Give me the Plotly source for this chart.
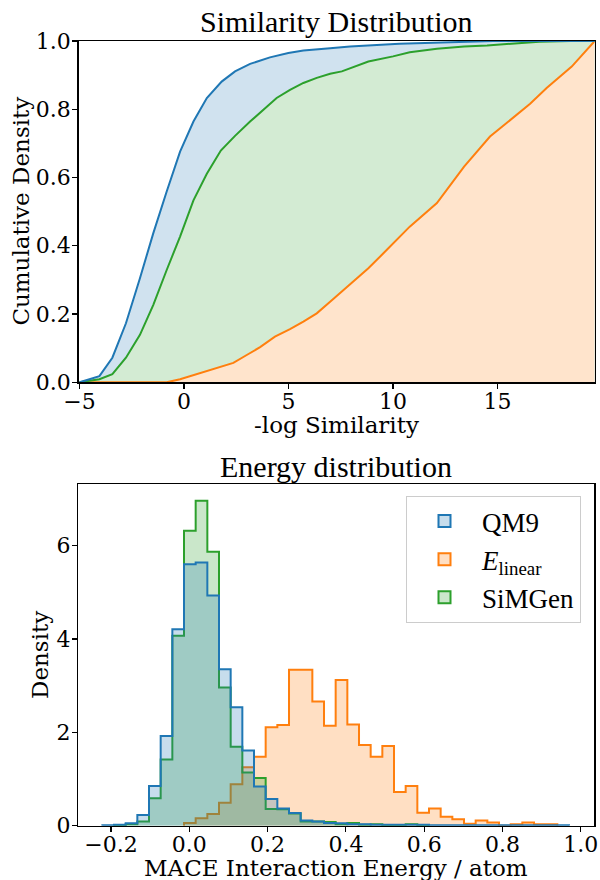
import plotly.graph_objects as go

W, H = 600, 880

C_BLUE = "#1f77b4"
C_ORANGE = "#ff7f0e"
C_GREEN = "#2ca02c"

# ---------------- Top panel: cumulative similarity distributions ----------------
qm9_sim_x = [-5.0, -4.05, -3.43, -2.78, -2.11, -1.47, -0.83, -0.19, 0.45, 1.09, 1.80, 2.44,
             3.16, 4.11, 4.99, 5.71, 6.99, 7.94, 10.3, 12.7, 14.8, 19.65]
qm9_sim_y = [0.0, 0.018, 0.072, 0.173, 0.305, 0.437, 0.559, 0.676, 0.764, 0.833, 0.881, 0.911,
             0.933, 0.952, 0.965, 0.972, 0.979, 0.984, 0.992, 0.996, 1.0, 1.0]

simgen_sim_x = [-5.0, -4.05, -3.43, -2.78, -2.11, -1.47, -0.83, -0.19, 0.45, 1.09, 1.76, 2.44,
                3.16, 3.80, 4.43, 5.07, 5.71, 6.35, 6.99, 7.55, 8.82, 10.0, 10.8, 12.1, 13.4,
                14.5, 15.8, 17.0, 18.5, 19.65]
simgen_sim_y = [0.0, 0.009, 0.024, 0.072, 0.139, 0.227, 0.329, 0.427, 0.533, 0.611, 0.679, 0.722,
                0.764, 0.798, 0.833, 0.857, 0.877, 0.892, 0.904, 0.911, 0.940, 0.955, 0.967, 0.977,
                0.984, 0.987, 0.993, 0.998, 1.0, 1.0]

elinear_sim_x = [-5.0, -0.83, -0.19, 0.45, 1.09, 1.72, 2.36, 3.0, 3.64, 4.35, 5.07, 5.71, 6.35,
                 6.99, 7.55, 8.82, 9.54, 10.8, 12.1, 13.4, 14.64, 16.56, 17.35, 18.55, 19.65]
elinear_sim_y = [0.0, 0.0, 0.009, 0.021, 0.031, 0.043, 0.057, 0.080, 0.103, 0.134, 0.156, 0.178,
                 0.202, 0.236, 0.266, 0.334, 0.378, 0.456, 0.525, 0.632, 0.720, 0.816, 0.862,
                 0.925, 1.0]

sim_xticks = [-5, 0, 5, 10, 15]
sim_xtick_labels = ["\u22125", "0", "5", "10", "15"]
sim_yticks = [0.0, 0.2, 0.4, 0.6, 0.8, 1.0]
sim_ytick_labels = ["0.0", "0.2", "0.4", "0.6", "0.8", "1.0"]

# ---------------- Bottom panel: energy histograms (density per bin) ----------------
HIST_START = -0.2221
HIST_WIDTH = 0.0298
N_EDGES = 42
hist_edges = [round(HIST_START + i * HIST_WIDTH, 4) for i in range(N_EDGES)]

qm9_first_bin = 0
qm9_density = [0.01, 0.02, 0.05, 0.23, 0.85, 1.92, 4.21, 5.60, 5.64, 4.93, 3.35, 2.54, 1.61,
               0.84, 0.57, 0.37, 0.27, 0.11, 0.09, 0.06, 0.05, 0.03, 0.03, 0.02, 0.02, 0.02,
               0.02, 0.02, 0.01, 0.01, 0.01, 0.01, 0.01, 0.01, 0.01, 0.01, 0.01, 0.01, 0.01, 0.01]

simgen_first_bin = 1
simgen_density = [0.01, 0.03, 0.09, 0.59, 1.42, 4.07, 6.32, 6.96, 5.87, 2.96, 1.69, 1.14, 1.02,
                  0.36, 0.35, 0.26, 0.09, 0.09, 0.08, 0.03, 0.06, 0.02, 0.03, 0.01, 0.01, 0.03,
                  0.01]

elinear_first_bin = 7
elinear_density = [0.06, 0.16, 0.25, 0.49, 0.89, 1.25, 1.48, 2.11, 2.16, 3.34, 3.34, 2.66, 2.14,
                   3.12, 2.17, 1.73, 1.48, 1.71, 0.72, 0.85, 0.28, 0.37, 0.19, 0.14, 0.04, 0.11,
                   0.07, 0.0, 0.03, 0.07, 0.03, 0.03]

en_xticks = [-0.2, 0.0, 0.2, 0.4, 0.6, 0.8, 1.0]
en_xtick_labels = ["\u22120.2", "0.0", "0.2", "0.4", "0.6", "0.8", "1.0"]
en_yticks = [0, 2, 4, 6]
en_ytick_labels = ["0", "2", "4", "6"]

series_names = ["QM9", "<i>E</i><sub>linear</sub>", "SiMGen"]


def rgba(hex_color, a):
    h = hex_color.lstrip("#")
    r, g, b = int(h[0:2], 16), int(h[2:4], 16), int(h[4:6], 16)
    return f"rgba({r},{g},{b},{a})"


def opaque_tint(hex_color, a):
    h = hex_color.lstrip("#")
    r, g, b = int(h[0:2], 16), int(h[2:4], 16), int(h[4:6], 16)
    mix = lambda c: round(255 * (1 - a) + c * a)
    return f"rgb({mix(r)},{mix(g)},{mix(b)})"


def step_xy(first, heights):
    n = len(heights)
    xs = [hist_edges[first]] + [hist_edges[first + i] for i in range(n)] + [hist_edges[first + n]]
    ys = [0.0] + list(heights) + [0.0]
    return xs, ys


fig = go.Figure()

# top panel fills (opaque tints, layered)
for xs, ys, col in [(qm9_sim_x, qm9_sim_y, C_BLUE),
                    (simgen_sim_x, simgen_sim_y, C_GREEN),
                    (elinear_sim_x, elinear_sim_y, C_ORANGE)]:
    fig.add_trace(go.Scatter(x=xs, y=ys, mode="lines", line=dict(width=0, color=col),
                             fill="tozeroy", fillcolor=opaque_tint(col, 0.21),
                             showlegend=False, hoverinfo="skip", xaxis="x", yaxis="y"))
for xs, ys, col in [(elinear_sim_x, elinear_sim_y, C_ORANGE),
                    (simgen_sim_x, simgen_sim_y, C_GREEN),
                    (qm9_sim_x, qm9_sim_y, C_BLUE)]:
    fig.add_trace(go.Scatter(x=xs, y=ys, mode="lines", line=dict(width=2, color=col),
                             showlegend=False, xaxis="x", yaxis="y"))

# bottom panel histograms
for first, dens, col in [(elinear_first_bin, elinear_density, C_ORANGE),
                         (simgen_first_bin, simgen_density, C_GREEN),
                         (qm9_first_bin, qm9_density, C_BLUE)]:
    xs, ys = step_xy(first, dens)
    fig.add_trace(go.Scatter(x=xs, y=ys, mode="lines", line=dict(width=2, color=col, shape="hv"),
                             fill="tozeroy", fillcolor=rgba(col, 0.25),
                             showlegend=False, xaxis="x2", yaxis="y2"))

# legend entries
for name, col in zip(series_names, [C_BLUE, C_ORANGE, C_GREEN]):
    fig.add_trace(go.Bar(x=[None], y=[None], name=name,
                         marker=dict(color=rgba(col, 0.25), line=dict(color=col, width=2)),
                         xaxis="x2", yaxis="y2"))

TICK_FONT = dict(family="DejaVu Serif", size=22, color="black")
LABEL_FONT = dict(family="DejaVu Serif", size=23, color="black")
TITLE_FONT = dict(family="Liberation Serif", size=30, color="black")

axis_common = dict(showline=True, linecolor="black", linewidth=1.3, mirror=True,
                   ticks="outside", ticklen=5, tickwidth=1.1, tickcolor="black",
                   showgrid=False, zeroline=False, tickfont=TICK_FONT, automargin=False)
x_extra = dict(ticklabelstandoff=-6)
y_extra = dict(ticklabelstandoff=-3)

fig.update_layout(
    template="none",
    width=W, height=H,
    margin=dict(l=0, r=0, t=0, b=0, pad=0),
    paper_bgcolor="white", plot_bgcolor="white",
    barmode="overlay",
    xaxis=dict(domain=[78.5 / W, 594.7 / W], range=[-5.05, 19.65], anchor="y",
               tickvals=sim_xticks, ticktext=sim_xtick_labels, **axis_common, **x_extra),
    yaxis=dict(domain=[1 - 382.3 / H, 1 - 41 / H], range=[0, 1], anchor="x",
               tickvals=sim_yticks, ticktext=sim_ytick_labels, **axis_common, **y_extra),
    xaxis2=dict(domain=[78.3 / W, 594.3 / W], range=[-0.2835, 1.0345], anchor="y2",
                tickvals=en_xticks, ticktext=en_xtick_labels, **axis_common, **x_extra),
    yaxis2=dict(domain=[1 - 825.7 / H, 1 - 484.3 / H], range=[0, 7.315], anchor="x2",
                tickvals=en_yticks, ticktext=en_ytick_labels, **axis_common, **y_extra),
    legend=dict(x=406 / W, y=1 - 496 / H, xanchor="left", yanchor="top",
                bgcolor="rgba(255,255,255,0.8)", bordercolor="#cccccc", borderwidth=1,
                font=dict(family="Liberation Serif", size=27, color="black"),
                itemwidth=65, tracegroupgap=0),
    showlegend=True,
)

annos = [
    dict(text="Similarity Distribution", x=336.6 / W, y=1 - 21 / H, font=TITLE_FONT),
    dict(text="Energy distribution", x=336.3 / W, y=1 - 466 / H, font=TITLE_FONT),
    dict(text="-log Similarity", x=336.6 / W, y=1 - 425 / H, font=LABEL_FONT),
    dict(text="MACE Interaction Energy / atom", x=336.3 / W, y=1 - 867.5 / H, font=LABEL_FONT),
    dict(text="Cumulative Density", x=21 / W, y=1 - 211.6 / H, font=LABEL_FONT, textangle=-90),
    dict(text="Density", x=40 / W, y=1 - 655 / H, font=LABEL_FONT, textangle=-90),
]
for a in annos:
    fig.add_annotation(xref="paper", yref="paper", showarrow=False,
                       xanchor="center", yanchor="middle", **a)

fig.write_html("out.html",
               config={"displayModeBar": False, "staticPlot": True},
               post_script="document.body.style.margin='0';document.body.style.padding='0';"
                           "document.documentElement.style.overflow='hidden';")
